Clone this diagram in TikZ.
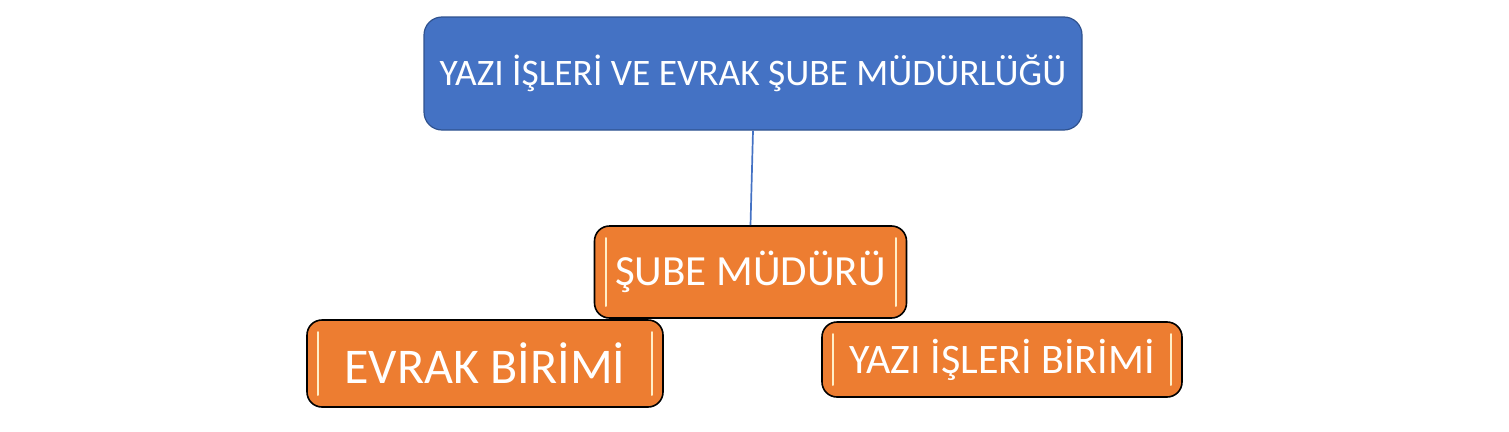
\documentclass[tikz,border=0pt]{standalone}
\usepackage{fontspec}
\setmainfont{Carlito}
\definecolor{headblue}{HTML}{4472C4}
\definecolor{headedge}{HTML}{2F528F}
\definecolor{unitorange}{HTML}{ED7D31}
\definecolor{gloss}{HTML}{FFEFC8}
\tikzstyle{head}=[draw=headedge,fill=headblue,line width=1.2pt,rounded corners=18pt,text=white,inner sep=0pt]
\tikzstyle{unit}=[draw=black,fill=unitorange,line width=1.6pt,rounded corners=15pt,text=white,inner sep=0pt,
  path picture={
    \draw[gloss,line width=2pt,line cap=round] ([xshift=11pt,yshift=-12pt]path picture bounding box.north west) -- ([xshift=11pt,yshift=12pt]path picture bounding box.south west);
    \draw[gloss,line width=2pt,line cap=round] ([xshift=-11pt,yshift=-12pt]path picture bounding box.north east) -- ([xshift=-11pt,yshift=12pt]path picture bounding box.south east);
  }]
\newcommand{\unitbox}[6]{\node[unit,minimum width=#4pt,minimum height=#5pt,font=\fontsize{#6}{#6}\selectfont] (#1) at #3 {#2};}

\begin{document}
\begin{tikzpicture}[x=1pt,y=-1pt]
    \useasboundingbox (0,0) rectangle (1509,431);
    % top office
    \node[head,minimum width=658pt,minimum height=113pt,font=\fontsize{37.4}{40}\selectfont] (office) at (753,73.5) {YAZI İŞLERİ VE EVRAK ŞUBE MÜDÜRLÜĞÜ};
    
    % units
    \unitbox{manager}{ŞUBE MÜDÜRÜ}{(750.5,272)}{312}{92}{43}
    \unitbox{evrak}{EVRAK BİRİMİ}{(485,363.5)}{356}{87}{50}
    \unitbox{yazi}{YAZI İŞLERİ BİRİMİ}{(1002,359.5)}{360}{75}{42}
    
    \draw[headblue,line width=1.7pt] (office.south) -- (manager.north);
\end{tikzpicture}
\end{document}
